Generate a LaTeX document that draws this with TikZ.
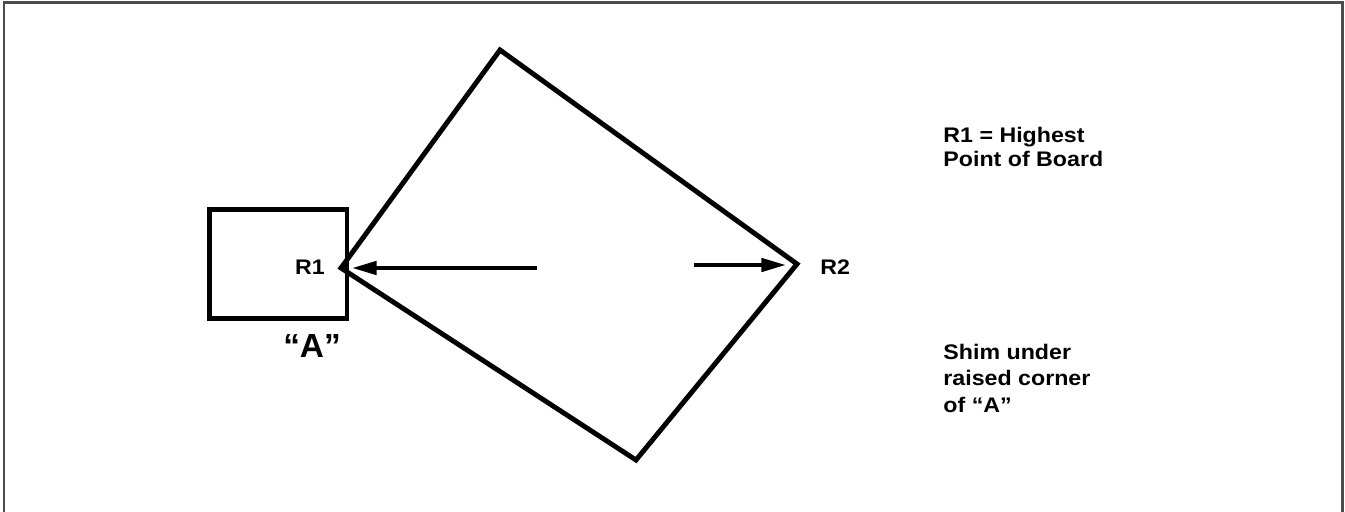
\documentclass[tikz,border=0pt]{standalone}
\usepackage{fontspec}
\setmainfont{Liberation Sans}
\newfontfamily\widesans[FakeStretch=1.1]{Liberation Sans}
\usetikzlibrary{arrows.meta}

\begin{document}
\begin{tikzpicture}[x=0.02cm,y=-0.02cm,line width=2.8pt,>={Triangle[length=14pt,width=7.5pt]},
   lbl/.style={font=\widesans\bfseries\fontsize{12}{13.6}\selectfont,align=left,inner sep=0pt},
   arr/.style={line width=2.3pt,->}]
  \useasboundingbox (0,0) rectangle (1345,511);
  \draw[line width=1.2pt,black!70] (4,520) -- (4,2.5) -- (1342.5,2.5) -- (1342.5,520);
  % shim block
  \draw (209.5,209.5) rectangle (347,318.5);
  % board, rotated
  \coordinate (top) at (500,50);
  \coordinate (rgt) at (797,264);
  \coordinate (bot) at (636,460);
  \coordinate (lft) at (341,268);
  \draw[line join=miter] (top) -- (rgt) -- (bot) -- (lft) -- cycle;
  \coordinate (a1) at (537,268);
  \coordinate (a1e) at (352,268);
  \coordinate (a2) at (694,265);
  \coordinate (a2e) at (786,265);
  \draw[arr] (a1) -- (a1e);
  \draw[arr] (a2) -- (a2e);
  \node[lbl] (r1) at (310,267) {R1};
  \node[lbl,anchor=west] (r2) at (818,267) {R2};
  \node[font=\bfseries\fontsize{19}{20}\selectfont] (sa) at (312,346) {“A”};
  \node[lbl,anchor=north west] (note1) at (941,124.5) {R1 = Highest\\Point of Board};
  \node[lbl,anchor=north west,font=\widesans\bfseries\fontsize{12}{15.1}\selectfont] (note2) at (941,341.5) {Shim under\\raised corner\\of “A”};
\end{tikzpicture}
\end{document}
